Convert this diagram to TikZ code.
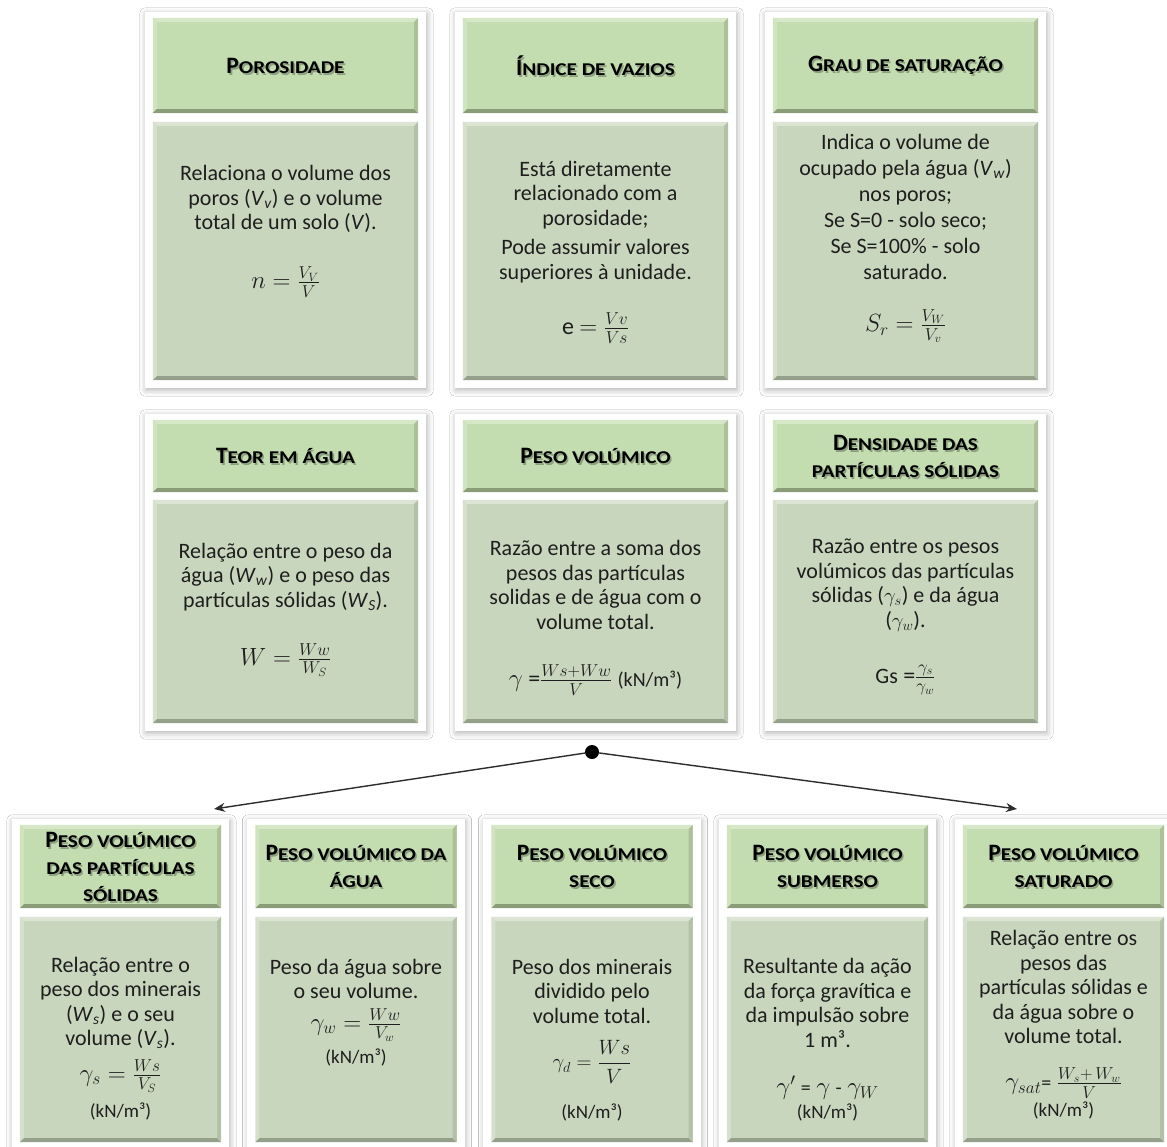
\documentclass[tikz,border=0pt]{standalone}
\usepackage{amsmath}
\usepackage{fontspec}
\setmainfont{Carlito}
\newfontfamily\scfont[FakeStretch=1.18]{Carlito}
\usetikzlibrary{shadows.blur,arrows.meta,backgrounds}

\definecolor{hdrfill}{RGB}{196,221,176}
\definecolor{hdrhi}{RGB}{214,232,199}
\definecolor{hdrmid}{RGB}{172,193,154}
\definecolor{hdrlo}{RGB}{138,156,120}
\definecolor{hdrle}{RGB}{208,228,192}
\definecolor{bdyfill}{RGB}{201,214,190}
\definecolor{bdyhi}{RGB}{220,229,212}
\definecolor{bdymid}{RGB}{180,193,169}
\definecolor{bdylo}{RGB}{148,160,138}
\definecolor{bdyle}{RGB}{214,224,205}
\definecolor{txtcol}{RGB}{30,30,30}
\definecolor{lncol}{RGB}{45,45,45}

% small-caps style titles: large initial, smaller stretched capitals
\newcommand\bigc[1]{{\fontsize{23.5}{27}\selectfont\bfseries #1}}
\newcommand\smc[1]{{\fontsize{18}{27}\selectfont\scfont\bfseries #1}}
\newcommand\ttl[2]{\bigc{#1}\smc{#2}}
\newcommand\iv[2]{\textit{#1}\textsubscript{\textit{#2}}}
\newcommand\kn{{\fontsize{20}{24}\selectfont(kN/m³)}}

% bevelled edges of a panel node: #1 node, #2 top, #3 bottom, #4 right, #5 left
\newcommand\bevel[5]{%
  \fill[#2] (#1.north west) -- (#1.north east) -- ([shift={(-4,4)}]#1.north east) -- ([shift={(4,4)}]#1.north west) -- cycle;
  \fill[#5] (#1.north west) -- ([shift={(4,4)}]#1.north west) -- ([shift={(4,-4)}]#1.south west) -- (#1.south west) -- cycle;
  \fill[#3] (#1.south west) -- (#1.south east) -- ([shift={(-4,-4)}]#1.south east) -- ([shift={(4,-4)}]#1.south west) -- cycle;
  \fill[#4] (#1.north east) -- ([shift={(-4,4)}]#1.north east) -- ([shift={(-4,-4)}]#1.south east) -- (#1.south east) -- cycle;
}

% one card: #1 name, #2 centre x, #3 header centre y, #4 width,
% #5 header height, #6 body centre y, #7 body height, #8 title
\newcommand\card[8]{%
  \node[hdr, minimum width=#4, minimum height=#5] (#1h) at (#2,#3) {};
  \node[bdy, minimum width=#4, minimum height=#7] (#1b) at (#2,#6) {};
  \bevel{#1h}{hdrhi}{hdrlo}{hdrmid}{hdrle}
  \bevel{#1b}{bdyhi}{bdylo}{bdymid}{bdyle}
  \node[ttlsty, text opacity=.28] (#1s) at ([shift={(1.6,2)}]#1h.center) {#8};
  \node[ttlsty] (#1t) at (#1h) {#8};
  \begin{scope}[on background layer]
    \fill[cardsty] ([shift={(-8,-6)}]#1h.north west) rectangle ([shift={(8,8)}]#1b.south east);
  \end{scope}
}

\tikzset{
  hdr/.style={rectangle, fill=hdrfill, inner sep=0pt},
  bdy/.style={rectangle, fill=bdyfill, inner sep=0pt},
  ttlsty/.style={align=center, inner sep=0pt, text=black, font=\fontsize{23.5}{27}\selectfont},
  txt/.style={align=center, inner sep=0pt, text=txtcol, font=\fontsize{22}{24.5}\selectfont},
  frm/.style={align=center, inner sep=0pt, text=txtcol, font=\fontsize{24}{26}\selectfont},
  unit/.style={align=center, inner sep=0pt, text=txtcol, font=\fontsize{19}{22}\selectfont},
  cardsty/.style={fill=white, blur shadow={shadow xshift=1pt, shadow yshift=-2pt, shadow blur radius=6pt, shadow opacity=30}},
  conn/.style={draw=lncol, line width=1.4pt, -{Stealth[length=11pt,width=9pt]}},
}

\begin{document}
\begin{tikzpicture}[x=1pt,y=-1pt]
\useasboundingbox (0,0) rectangle (1167,1147);
\begin{scope}[on background layer]
  \fill[white] (0,0) rectangle (1167,1147);
\end{scope}

% ---------- first row ----------
\card{por}{285.5}{65.5}{265}{95}{251}{258}{\ttl{P}{OROSIDADE}}
\card{ind}{595.5}{65.5}{265}{95}{251}{258}{\ttl{Í}{NDICE DE VAZIOS}}
\card{gra}{905.5}{65.5}{265}{95}{251}{258}{\ttl{G}{RAU DE SATURAÇÃO}}

\node[txt] (pord) at (285.5,199) {Relaciona o volume dos\\poros (\iv{V}{v}) e o volume\\total de um solo (\textit{V}).};
\node[frm] (porf) at (285.5,282) {$n=\frac{V_V}{V}$};

\node[txt] (indd) at (595.5,222) {Está diretamente\\relacionado com a\\porosidade;\\[5pt]Pode assumir valores\\superiores à unidade.};
\node[frm] (indf) at (595.5,328) {e $=\frac{Vv}{Vs}$};

\node[txt, font=\fontsize{22}{26}\selectfont] (grad) at (905.5,207) {Indica o volume de\\ocupado pela água (\iv{V}{w})\\nos poros;\\Se S=0 - solo seco;\\Se S=100\% - solo\\saturado.};
\node[frm] (graf) at (905.5,326) {$S_r=\frac{V_W}{V_v}$};

% ---------- second row ----------
\card{teo}{285.5}{456}{265}{72}{611.5}{223}{\ttl{T}{EOR EM ÁGUA}}
\card{pes}{595.5}{456}{265}{72}{611.5}{223}{\ttl{P}{ESO VOLÚMICO}}
\card{den}{905.5}{456}{265}{72}{611.5}{223}{\ttl{D}{ENSIDADE DAS}\\\smc{PARTÍCULAS SÓLIDAS}}

\node[txt] (teod) at (285.5,577) {Relação entre o peso da\\água (\iv{W}{w}) e o peso das\\partículas sólidas (\iv{W}{S}).};
\node[frm] (teof) at (285.5,660) {$W=\frac{Ww}{W_S}$};

\node[txt] (pesd) at (595.5,585) {Razão entre a soma dos\\pesos das partículas\\solidas e de água com o\\volume total.};
\node[frm] (pesf) at (595.5,680) {$\gamma$ =$\frac{Ws+Ww}{V}$ \kn};

\node[txt] (dend) at (905.5,585) {Razão entre os pesos\\volúmicos das partículas\\sólidas ($\gamma_s$) e da água\\($\gamma_w$).};
\node[frm] (denf) at (905.5,680) {{\fontsize{22}{24}\selectfont Gs} =$\frac{\gamma_s}{\gamma_w}$};

% ---------- third row ----------
\card{gs}{120.5}{866.5}{201}{83}{1029.5}{225}{\ttl{P}{ESO VOLÚMICO}\\\smc{DAS PARTÍCULAS}\\\smc{SÓLIDAS}}
\card{gw}{356}{866.5}{201}{83}{1029.5}{225}{\ttl{P}{ESO VOLÚMICO DA}\\\smc{ÁGUA}}
\card{gd}{592}{866.5}{201}{83}{1029.5}{225}{\ttl{P}{ESO VOLÚMICO}\\\smc{SECO}}
\card{gsub}{827.5}{866.5}{201}{83}{1029.5}{225}{\ttl{P}{ESO VOLÚMICO}\\\smc{SUBMERSO}}
\card{gsat}{1063.5}{866.5}{201}{83}{1029.5}{225}{\ttl{P}{ESO VOLÚMICO}\\\smc{SATURADO}}

\node[txt] (gsd) at (120.5,1003) {Relação entre o\\peso dos minerais\\(\iv{W}{s}) e o seu\\volume (\iv{V}{s}).};
\node[frm] (gsf) at (120.5,1076) {$\gamma_s=\frac{Ws}{V_S}$};
\node[unit] (gsu) at (120.5,1111) {(kN/m³)};

\node[txt] (gwd) at (356,979) {Peso da água sobre\\o seu volume.};
\node[frm] (gwf) at (356,1025) {$\gamma_w=\frac{Ww}{V_w}$};
\node[unit] (gwu) at (356,1057) {(kN/m³)};

\node[txt] (gdd) at (592,991) {Peso dos minerais\\dividido pelo\\volume total.};
\node[frm, font=\fontsize{22}{24}\selectfont] (gdf) at (592,1062) {$\gamma_d=\dfrac{Ws}{V}$};
\node[unit] (gdu) at (592,1112) {(kN/m³)};

\node[txt] (gsubd) at (827.5,1003) {Resultante da ação\\da força gravítica e\\da impulsão sobre\\1 m³.};
\node[frm] (gsubf) at (827.5,1088) {$\gamma'$ {\fontsize{20}{24}\selectfont=} $\gamma$ {\fontsize{20}{24}\selectfont-} $\gamma_W$};
\node[unit] (gsubu) at (827.5,1112) {(kN/m³)};

\node[txt] (gsatd) at (1063.5,987) {Relação entre os\\pesos das\\partículas sólidas e\\da água sobre o\\volume total.};
\node[frm] (gsatf) at (1063.5,1083) {$\gamma_{sat}${\fontsize{20}{24}\selectfont=} $\frac{W_s+\,W_w}{V}$};
\node[unit] (gsatu) at (1063.5,1110) {(kN/m³)};

% ---------- branching connector ----------
\node[circle, fill=black, minimum size=14pt, inner sep=0pt] (hub) at (592,752) {};
\coordinate (tipl) at (214,809);
\coordinate (tipr) at (1017,809);
\draw[conn] (hub) -- (tipl);
\draw[conn] (hub) -- (tipr);
\end{tikzpicture}
\end{document}
